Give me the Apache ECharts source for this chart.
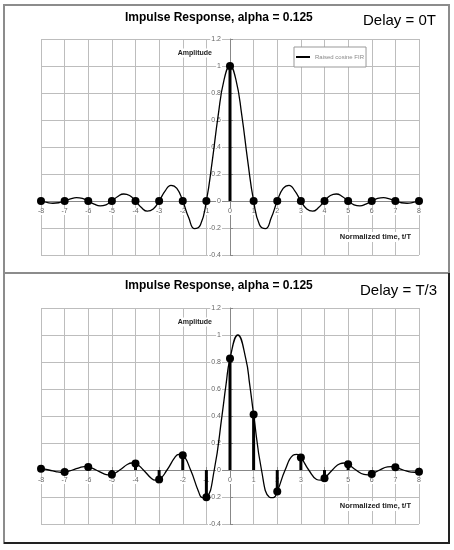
<!DOCTYPE html>
<html>
<head>
<meta charset="utf-8">
<script src="https://cdn.jsdelivr.net/npm/echarts@6/dist/echarts.min.js"></script>
<style>
html, body { margin: 0; padding: 0; background: #fff; }
#chart { width: 454px; height: 550px; }
</style>
</head>
<body>
<div id="chart"></div>
<script>
// ---------- data ----------
const chartTitle = 'Impulse Response, alpha = 0.125';
const delayLabels = ['Delay = 0T', 'Delay = T/3'];
const legendLabel = 'Raised cosine FIR';
const yAxisName = 'Amplitude';
const xAxisName = 'Normalized time, t/T';

// axis ranges / tick spacing
const xRange = [-8, 8];
const xStep = 1;
const yRange = [-0.4, 1.2];
const yStep = 0.2;

// top panel (delay 0): continuous impulse response
const timeTop = [-8, -7.75, -7.5, -7.25, -7, -6.75, -6.5, -6.25, -6, -5.75, -5.5, -5.25, -5,
  -4.75, -4.5, -4.25, -4, -3.75, -3.5, -3.25, -3, -2.75, -2.5, -2.25, -2, -1.75, -1.5, -1.25, -1,
  -0.75, -0.5, -0.25, 0, 0.25, 0.5, 0.75, 1, 1.25, 1.5, 1.75, 2, 2.25, 2.5, 2.75, 3, 3.25, 3.5, 3.75, 4,
  4.25, 4.5, 4.75, 5, 5.25, 5.5, 5.75, 6, 6.25, 6.5, 6.75, 7, 7.25, 7.5, 7.75, 8];
const ampTop = [0, -0.0105, -0.0166, -0.0130, 0, 0.0159, 0.0248, 0.0193, 0, -0.0233, -0.0361, -0.0280, 0,
  0.0335, 0.0520, 0.0403, 0, -0.0486, -0.0757, -0.0592, 0, 0.0732, 0.1161, 0.0928, 0, -0.1230, -0.2053, -0.1760, 0,
  0.2976, 0.6343, 0.8995, 1, 0.8995, 0.6343, 0.2976, 0, -0.1760, -0.2053, -0.1230, 0, 0.0928, 0.1161, 0.0732, 0,
  -0.0592, -0.0757, -0.0486, 0, 0.0403, 0.0520, 0.0335, 0, -0.0280, -0.0361, -0.0233, 0, 0.0193, 0.0248, 0.0159, 0,
  -0.0130, -0.0166, -0.0105, 0];

// bottom panel (delay T/3): continuous impulse response
const timeBottom = [-8, -7.667, -7.333, -7.167, -7, -6.667, -6.333, -6.167, -6, -5.667, -5.333, -5.167, -5,
  -4.667, -4.333, -4.167, -4, -3.667, -3.333, -3.167, -3, -2.667, -2.333, -2.167, -2, -1.667, -1.333, -1.167, -1,
  -0.667, -0.333, -0.167, 0, 0.333, 0.667, 0.833, 1, 1.333, 1.667, 1.833, 2, 2.333, 2.667, 2.833, 3,
  3.333, 3.667, 3.833, 4, 4.333, 4.667, 4.833, 5, 5.333, 5.667, 5.833, 6, 6.333, 6.667, 6.833, 7,
  7.333, 7.667, 7.833, 8];
const ampBottom = [0.0098, 0, -0.0133, -0.0166, -0.0154, 0, 0.0201, 0.0248, 0.0229, 0, -0.0294, -0.0361, -0.0332,
  0, 0.0423, 0.0520, 0.0478, 0, -0.0614, -0.0757, -0.0701, 0, 0.0930, 0.1161, 0.1090, 0, -0.1588, -0.2053, -0.2014,
  0, 0.4108, 0.6343, 0.8256, 1, 0.8256, 0.6343, 0.4108, 0, -0.2014, -0.2053, -0.1588, 0, 0.1090, 0.1161, 0.0930,
  0, -0.0701, -0.0757, -0.0614, 0, 0.0478, 0.0520, 0.0423, 0, -0.0332, -0.0361, -0.0294, 0, 0.0229, 0.0248, 0.0201,
  0, -0.0154, -0.0166, -0.0133];

// sampled values at integer t
const sampleTimes = [-8, -7, -6, -5, -4, -3, -2, -1, 0, 1, 2, 3, 4, 5, 6, 7, 8];
const samplesTop = [0, 0, 0, 0, 0, 0, 0, 0, 1, 0, 0, 0, 0, 0, 0, 0, 0];
const samplesBottom = [0.0098, -0.0154, 0.0229, -0.0332, 0.0478, -0.0701, 0.1090, -0.2014, 0.8256,
  0.4108, -0.1588, 0.0930, -0.0614, 0.0423, -0.0294, 0.0201, -0.0133];

// ---------- chart ----------
const FONT = '"Liberation Sans", Arial, sans-serif';
const pairs = (xs, ys) => xs.map((x, i) => [x, ys[i]]);

const gridPos = [
  { left: 41, width: 378, top: 39, height: 216 },
  { left: 41, width: 378, top: 308, height: 216 }
];

// labels sit along the zero lines (axes cross at the origin)
function xAxisCfg(idx) {
  return {
    type: 'value', gridIndex: idx, min: xRange[0], max: xRange[1], interval: xStep,
    name: '{a|' + xAxisName + '}', nameLocation: 'end', nameGap: -7, nameMoveOverlap: false,
    nameTextStyle: {
      align: 'right', verticalAlign: 'top', padding: [31, 0, 0, 0],
      rich: { a: { fontFamily: FONT, fontSize: 7.5, fontWeight: 'bold', color: '#222', backgroundColor: '#fff', padding: [1, 1] } }
    },
    axisLine: { onZero: true, lineStyle: { color: '#888', width: 1 } },
    axisTick: { show: true, inside: true, length: 3, lineStyle: { color: '#888' } },
    axisLabel: { fontFamily: FONT, fontSize: 7, color: '#666', margin: -47, backgroundColor: '#fff', padding: [0, 1] },
    splitLine: { show: true, lineStyle: { color: '#bdbdbd', width: 1 } }
  };
}
function yAxisCfg(idx) {
  return {
    type: 'value', gridIndex: idx, min: yRange[0], max: yRange[1], interval: yStep,
    name: '{a|' + yAxisName + '}', nameLocation: 'end', nameGap: -14, nameMoveOverlap: false,
    nameTextStyle: {
      align: 'right', verticalAlign: 'middle', padding: [0, 16, 0, 0],
      rich: { a: { fontFamily: FONT, fontSize: 7, fontWeight: 'bold', color: '#222', backgroundColor: '#fff', padding: [1, 2] } }
    },
    axisLine: { onZero: true, lineStyle: { color: '#888', width: 1 } },
    axisTick: { show: true, inside: true, length: 3, lineStyle: { color: '#888' } },
    axisLabel: { fontFamily: FONT, fontSize: 7, color: '#666', margin: -181, backgroundColor: '#fff', padding: [0, 1] },
    splitLine: { show: true, lineStyle: { color: '#bdbdbd', width: 1 } }
  };
}

function stemSeries(idx, times, vals) {
  return {
    name: 'Stems ' + idx, type: 'custom', xAxisIndex: idx, yAxisIndex: idx, z: 3,
    data: pairs(times, vals),
    renderItem: function (params, api) {
      const p0 = api.coord([api.value(0), 0]);
      const p1 = api.coord([api.value(0), api.value(1)]);
      return { type: 'line', shape: { x1: p0[0], y1: p0[1], x2: p1[0], y2: p1[1] },
        style: { stroke: '#000', lineWidth: 3, lineCap: 'butt' } };
    }
  };
}
function curveSeries(idx, name, times, vals) {
  return {
    name: name, type: 'line', xAxisIndex: idx, yAxisIndex: idx, z: 4,
    data: pairs(times, vals), smooth: true, showSymbol: false, symbol: 'none',
    lineStyle: { color: '#000', width: 1.3 }, itemStyle: { color: '#000' }
  };
}
function dotSeries(idx, times, vals) {
  return {
    name: 'Samples ' + idx, type: 'scatter', xAxisIndex: idx, yAxisIndex: idx, z: 5,
    data: pairs(times, vals), symbol: 'circle', symbolSize: 8,
    itemStyle: { color: '#000', opacity: 1 }
  };
}

const chart = echarts.init(document.getElementById('chart'));
chart.setOption({
  animation: false,
  backgroundColor: '#fff',
  textStyle: { fontFamily: FONT },
  title: [
    { text: chartTitle, left: 125, top: 11.5, padding: 0,
      textStyle: { fontFamily: FONT, fontSize: 12, fontWeight: 'bold', color: '#000' } },
    { text: chartTitle, left: 125, top: 279.5, padding: 0,
      textStyle: { fontFamily: FONT, fontSize: 12, fontWeight: 'bold', color: '#000' } },
    { text: delayLabels[0], left: 363, top: 13, padding: 0,
      textStyle: { fontFamily: FONT, fontSize: 15, fontWeight: 'normal', color: '#000' } },
    { text: delayLabels[1], left: 360, top: 283, padding: 0,
      textStyle: { fontFamily: FONT, fontSize: 15, fontWeight: 'normal', color: '#000' } }
  ],
  legend: {
    data: [legendLabel], left: 294, top: 47, orient: 'horizontal',
    icon: 'rect', itemWidth: 14, itemHeight: 2,
    backgroundColor: '#fff', borderColor: '#999', borderWidth: 1, borderRadius: 0,
    padding: [7, 2, 7, 2], selectedMode: false,
    textStyle: { fontFamily: FONT, fontSize: 6, color: '#888' }
  },
  grid: gridPos,
  xAxis: [xAxisCfg(0), xAxisCfg(1)],
  yAxis: [yAxisCfg(0), yAxisCfg(1)],
  series: [
    stemSeries(0, sampleTimes, samplesTop),
    curveSeries(0, legendLabel, timeTop, ampTop),
    dotSeries(0, sampleTimes, samplesTop),
    stemSeries(1, sampleTimes, samplesBottom),
    curveSeries(1, legendLabel + ' (T/3)', timeBottom, ampBottom),
    dotSeries(1, sampleTimes, samplesBottom)
  ],
  graphic: [
    { type: 'rect', silent: true, z: 100, shape: { x: 4, y: 5, width: 445, height: 268 },
      style: { fill: 'none', stroke: '#8c8c8c', lineWidth: 2 } },
    { type: 'rect', silent: true, z: 100, shape: { x: 4, y: 273, width: 445, height: 270 },
      style: { fill: 'none', stroke: '#8c8c8c', lineWidth: 2 } },
    { type: 'line', silent: true, z: 101, shape: { x1: 4, y1: 543, x2: 450, y2: 543 },
      style: { stroke: '#222', lineWidth: 2 } },
    { type: 'line', silent: true, z: 101, shape: { x1: 449, y1: 273, x2: 449, y2: 544 },
      style: { stroke: '#222', lineWidth: 2 } }
  ]
});
</script>
</body>
</html>
